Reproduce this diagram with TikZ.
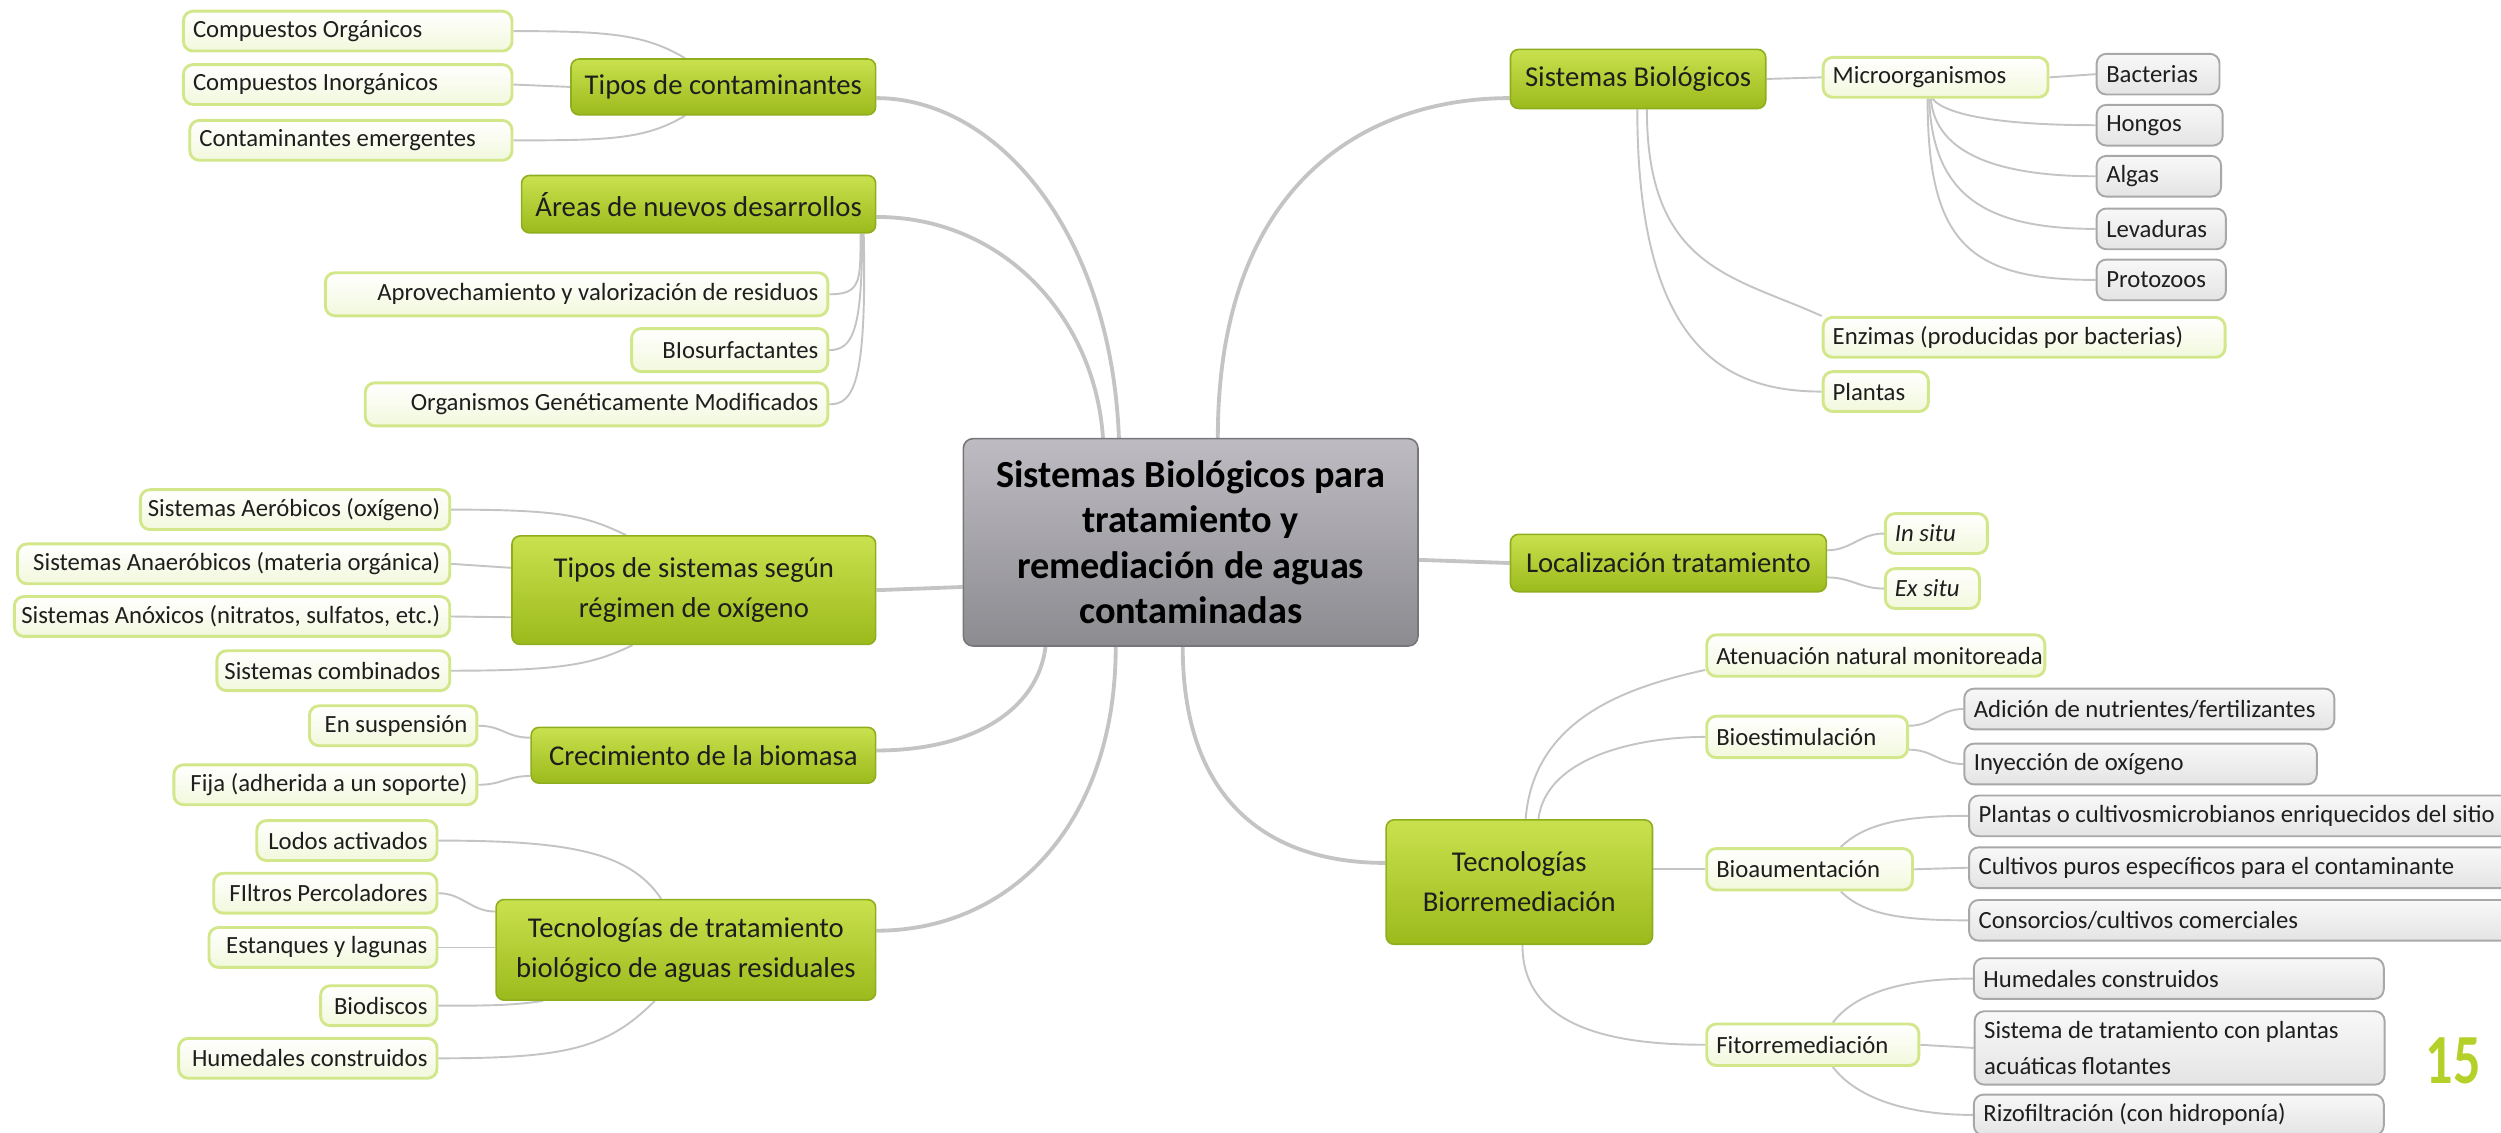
\documentclass[tikz,border=0pt]{standalone}
\usepackage{fontspec}
\setmainfont{Carlito}
\usetikzlibrary{calc}
\definecolor{gtop}{HTML}{C9E14E}
\definecolor{gbot}{HTML}{9CBA1C}
\definecolor{gbord}{HTML}{8FAE1E}
\definecolor{lbot}{HTML}{F2F8DC}
\definecolor{lbord}{HTML}{D2E68A}
\definecolor{grtop}{HTML}{F8F8F8}
\definecolor{grbot}{HTML}{E4E4E4}
\definecolor{grbord}{HTML}{A8A8A8}
\definecolor{ctop}{HTML}{BEBCC2}
\definecolor{cbot}{HTML}{8C8B90}
\definecolor{cbord}{HTML}{77767B}
\definecolor{linec}{HTML}{C4C4C4}
\definecolor{numc}{HTML}{B4D12A}
\definecolor{txt}{HTML}{1E1E1E}
\newcommand\myL[2]{\makebox[#1pt][l]{#2}}
\newcommand\myR[2]{\makebox[#1pt][r]{#2}}
\pgfdeclarelayer{bg}
\pgfsetlayers{bg,main}
\begin{document}
\begin{tikzpicture}[x=1pt,y=-1pt,
  every node/.style={text=txt},
  mainbox/.style={draw=gbord, line width=1pt, rounded corners=5pt, top color=gtop, bottom color=gbot, inner xsep=5pt, inner ysep=2pt, font=\fontsize{18}{25}\selectfont, align=center},
  leafbox/.style={draw=lbord, line width=1.8pt, rounded corners=6pt, top color=white, bottom color=lbot, inner xsep=6pt, inner ysep=2pt, minimum height=25pt, font=\fontsize{15.5}{19}\selectfont},
  graybox/.style={draw=grbord, line width=1.2pt, rounded corners=6pt, top color=grtop, bottom color=grbot, inner xsep=6pt, inner ysep=2pt, minimum height=25.5pt, font=\fontsize{15.5}{23}\selectfont},
  centerbox/.style={draw=cbord, line width=1pt, rounded corners=6pt, top color=ctop, bottom color=cbot, minimum width=285pt, minimum height=130pt, align=center, text=black, font=\bfseries\fontsize{24}{28.5}\selectfont},
  trunk/.style={draw=linec, line width=2.4pt},
  twig/.style={draw=linec, line width=1.2pt},
]
\useasboundingbox (0,0) rectangle (1568,710);
\clip (0,0) rectangle (1568,710);

\node[centerbox] (c) at (746.5,340) {Sistemas Biológicos para\\tratamiento y\\remediación de aguas\\contaminadas};

% ---------- left main nodes
\node[mainbox, minimum width=191pt, minimum height=35pt] (tipos) at (453.5,54.5) {Tipos de contaminantes};
\node[mainbox, minimum width=222pt, minimum height=36pt] (areas) at (438,128) {Áreas de nuevos desarrollos};
\node[mainbox, minimum width=228pt, minimum height=68pt] (tsist) at (435,370) {Tipos de sistemas según\\régimen de oxígeno};
\node[mainbox, minimum width=216pt, minimum height=35pt] (crec) at (441,473.5) {Crecimiento de la biomasa};
\node[mainbox, minimum width=238pt, minimum height=63pt] (ttrat) at (430,595.5) {Tecnologías de tratamiento\\biológico de aguas residuales};

% ---------- left leaves
\node[leafbox] (org) at (218,19.5) {\myL{194}{Compuestos Orgánicos}};
\node[leafbox] (inorg) at (218,53) {\myL{194}{Compuestos Inorgánicos}};
\node[leafbox] (emerg) at (220,88) {\myL{190}{Contaminantes emergentes}};
\node[leafbox, minimum height=27pt] (aprov) at (361.5,184.5) {\myR{303}{Aprovechamiento y valorización de residuos}};
\node[leafbox, minimum height=27pt] (biosurf) at (457.5,219.5) {\myR{111}{BIosurfactantes}};
\node[leafbox, minimum height=27pt] (ogm) at (374,253.5) {\myR{278}{Organismos Genéticamente Modificados}};
\node[leafbox] (aer) at (185,319.5) {\myR{182}{Sistemas Aeróbicos (oxígeno)}};
\node[leafbox] (anaer) at (146.5,353.5) {\myR{259}{Sistemas Anaeróbicos (materia orgánica)}};
\node[leafbox] (anox) at (145.5,386.5) {\myR{261}{Sistemas Anóxicos (nitratos, sulfatos, etc.)}};
\node[leafbox] (comb) at (209,420.5) {\myR{134}{Sistemas combinados}};
\node[leafbox] (susp) at (246.5,455) {\myR{93}{En suspensión}};
\node[leafbox] (fija) at (204,492) {\myR{178}{Fija (adherida a un soporte)}};
\node[leafbox] (lodos) at (217.5,527) {\myR{101}{Lodos activados}};
\node[leafbox] (filtros) at (204,560) {\myR{128}{FIltros Percoladores}};
\node[leafbox] (estanq) at (202.5,594) {\myR{131}{Estanques y lagunas}};
\node[leafbox] (biodisc) at (237.5,630.5) {\myR{61}{Biodiscos}};
\node[leafbox] (humed) at (193,663.5) {\myR{150}{Humedales construidos}};

% ---------- right main nodes
\node[mainbox, minimum width=160pt, minimum height=37pt] (sb) at (1027,49.5) {Sistemas Biológicos};
\node[mainbox, minimum width=198pt, minimum height=36pt] (loc) at (1046,353) {Localización tratamiento};
\node[mainbox, minimum width=167pt, minimum height=78pt] (tb) at (952.5,553) {Tecnologías\\Biorremediación};

% ---------- right leaves
\node[leafbox] (micro) at (1213.5,48.5) {\myL{129}{Microorganismos}};
\node[leafbox] (enz) at (1269,211.5) {\myL{240}{Enzimas (producidas por bacterias)}};
\node[leafbox] (plantas) at (1176,245.5) {\myL{54}{Plantas}};
\node[leafbox] (insitu) at (1214,334.5) {\myL{52}{\itshape In situ}};
\node[leafbox] (exsitu) at (1211.5,369) {\myL{47}{\itshape Ex situ}};
\node[leafbox, minimum height=26pt] (aten) at (1176,411) {\myL{200}{Atenuación natural monitoreada}};
\node[leafbox, minimum height=26pt] (bioest) at (1133,462) {\myL{114}{Bioestimulación}};
\node[leafbox, minimum height=26pt] (bioaum) at (1134.5,545) {\myL{117}{Bioaumentación}};
\node[leafbox, minimum height=26pt] (fito) at (1136.5,655) {\myL{121}{Fitorremediación}};

\node[graybox] (bact) at (1353,46.5) {\myL{65}{Bacterias}};
\node[graybox] (hong) at (1354,78.5) {\myL{67}{Hongos}};
\node[graybox] (algas) at (1353.5,110.5) {\myL{66}{Algas}};
\node[graybox] (lev) at (1355,143.5) {\myL{69}{Levaduras}};
\node[graybox] (prot) at (1355,175.5) {\myL{69}{Protozoos}};
\node[graybox] (adic) at (1347.5,444.5) {\myL{220}{Adición de nutrientes/fertilizantes}};
\node[graybox] (inyec) at (1342,479) {\myL{209}{Inyección de oxígeno}};
\node[graybox] (plcult) at (1406,511.5) {\myL{331}{Plantas o cultivosmicrobianos enriquecidos del sitio}};
\node[graybox] (cultp) at (1406,544) {\myL{331}{Cultivos puros específicos para el contaminante}};
\node[graybox] (cons) at (1406,577) {\myL{331}{Consorcios/cultivos comerciales}};
\node[graybox] (humr) at (1366,613.5) {\myL{245}{Humedales construidos}};
\node[graybox, align=left, minimum height=46pt] (sist) at (1366.5,657) {\myL{245}{Sistema de tratamiento con plantas}\\\myL{245}{acuáticas flotantes}};
\node[graybox] (rizo) at (1366,699) {\myL{245}{Rizofiltración (con hidroponía)}};

\node[text=numc, font=\bfseries\fontsize{34}{34}\selectfont] (num) at (1538,665) {\scalebox{1}[1.3]{15}};

% ---------- connectors
\begin{pgfonlayer}{bg}
% trunks
\draw[trunk] ($(c.north west)+(98,0)$) .. controls +(-5,-130) and +(75,0) .. ($(tipos.east)+(0,7)$);
\draw[trunk] ($(c.north west)+(88,0)$) .. controls +(-5,-75) and +(80,0) .. ($(areas.east)+(0,8)$);
\draw[trunk] ($(c.west)+(0,28)$) -- (tsist.east);
\draw[trunk] ($(c.south west)+(52,0)$) .. controls +(-5,40) and +(60,0) .. ($(crec.east)+(0,-3)$);
\draw[trunk] ($(c.south west)+(96,0)$) .. controls +(0,110) and +(85,0) .. ($(ttrat.east)+(0,-12)$);
\draw[trunk] ($(c.north west)+(160,0)$) .. controls +(0,-160) and +(-90,0) .. ($(sb.west)+(0,12)$);
\draw[trunk] ($(c.east)+(0,11)$) -- (loc.west);
\draw[trunk] ($(c.south west)+(138,0)$) .. controls +(0,95) and +(-75,0) .. ($(tb.west)+(0,-12)$);
% tipos
\draw[twig] ($(tipos.north west)+(72,0)$) .. controls +(-25,-15) and +(60,0) .. (org.east);
\draw[twig] (tipos.west) -- (inorg.east);
\draw[twig] ($(tipos.south west)+(72,0)$) .. controls +(-25,15) and +(60,0) .. (emerg.east);
% areas
\draw[twig] ($(areas.south east)+(-10,0)$) .. controls +(0,30) and +(20,0) .. (aprov.east);
\draw[twig] ($(areas.south east)+(-9,0)$) .. controls +(0,60) and +(15,0) .. (biosurf.east);
\draw[twig] ($(areas.south east)+(-8,0)$) .. controls +(2,95) and +(15,0) .. (ogm.east);
% tipos de sistemas
\draw[twig] ($(tsist.north west)+(72,0)$) .. controls +(-25,-12) and +(70,0) .. (aer.east);
\draw[twig] ($(tsist.west)+(0,-14)$) -- (anaer.east);
\draw[twig] ($(tsist.west)+(0,17)$) -- (anox.east);
\draw[twig] ($(tsist.south west)+(76,0)$) .. controls +(-25,12) and +(70,0) .. (comb.east);
% crecimiento
\draw[twig] ($(crec.west)+(0,-11)$) .. controls +(-15,0) and +(15,0) .. (susp.east);
\draw[twig] ($(crec.west)+(0,13)$) .. controls +(-15,0) and +(15,0) .. (fija.east);
% tec tratamiento
\draw[twig] ($(ttrat.north west)+(104,0)$) .. controls +(-20,-30) and +(80,0) .. (lodos.east);
\draw[twig] ($(ttrat.west)+(0,-24)$) .. controls +(-15,0) and +(15,0) .. (filtros.east);
\draw[twig] ($(ttrat.west)+(0,-1.5)$) -- (estanq.east);
\draw[twig] ($(ttrat.south west)+(30,0)$) .. controls +(-20,3) and +(30,0) .. (biodisc.east);
\draw[twig] ($(ttrat.south west)+(100,0)$) .. controls +(-30,30) and +(80,0) .. (humed.east);
% sistemas biologicos
\draw[twig] (sb.east) -- (micro.west);
\draw[twig] ($(sb.south west)+(86,0)$) .. controls +(0,100) and +(-55,-25) .. (enz.north west);
\draw[twig] ($(sb.south west)+(80,0)$) .. controls +(0,150) and +(-60,0) .. (plantas.west);
\draw[twig] (micro.east) -- (bact.west);
\draw[twig] ($(micro.south)+(-2,0)$) .. controls +(10,12) and +(-50,0) .. (hong.west);
\draw[twig] ($(micro.south)+(-3,0)$) .. controls +(3,35) and +(-60,0) .. (algas.west);
\draw[twig] ($(micro.south)+(-4,0)$) .. controls +(2,60) and +(-70,0) .. (lev.west);
\draw[twig] ($(micro.south)+(-5,0)$) .. controls +(0,90) and +(-80,0) .. (prot.west);
% localizacion
\draw[twig] ($(loc.east)+(0,-8)$) .. controls +(15,0) and +(-15,0) .. (insitu.west);
\draw[twig] ($(loc.east)+(0,9)$) .. controls +(15,0) and +(-15,0) .. (exsitu.west);
% tec biorremediacion
\draw[twig] ($(tb.north west)+(88,0)$) .. controls +(5,-65) and +(-45,10) .. ($(aten.west)+(0,9)$);
\draw[twig] ($(tb.north west)+(96,0)$) .. controls +(5,-40) and +(-40,0) .. (bioest.west);
\draw[twig] ($(tb.east)+(0,-8)$) -- (bioaum.west);
\draw[twig] ($(tb.south west)+(86,0)$) .. controls +(0,55) and +(-50,0) .. (fito.west);
\draw[twig] ($(bioest.east)+(0,-7)$) .. controls +(15,0) and +(-15,0) .. (adic.west);
\draw[twig] ($(bioest.east)+(0,8)$) .. controls +(15,0) and +(-15,0) .. (inyec.west);
\draw[twig] ($(bioaum.north west)+(85,0)$) .. controls +(15,-15) and +(-40,0) .. (plcult.west);
\draw[twig] (bioaum.east) -- (cultp.west);
\draw[twig] ($(bioaum.south west)+(85,0)$) .. controls +(15,15) and +(-40,0) .. (cons.west);
\draw[twig] ($(fito.north west)+(80,0)$) .. controls +(15,-20) and +(-40,0) .. (humr.west);
\draw[twig] (fito.east) -- (sist.west);
\draw[twig] ($(fito.south west)+(80,0)$) .. controls +(15,20) and +(-40,0) .. (rizo.west);
\end{pgfonlayer}
\end{tikzpicture}
\end{document}
